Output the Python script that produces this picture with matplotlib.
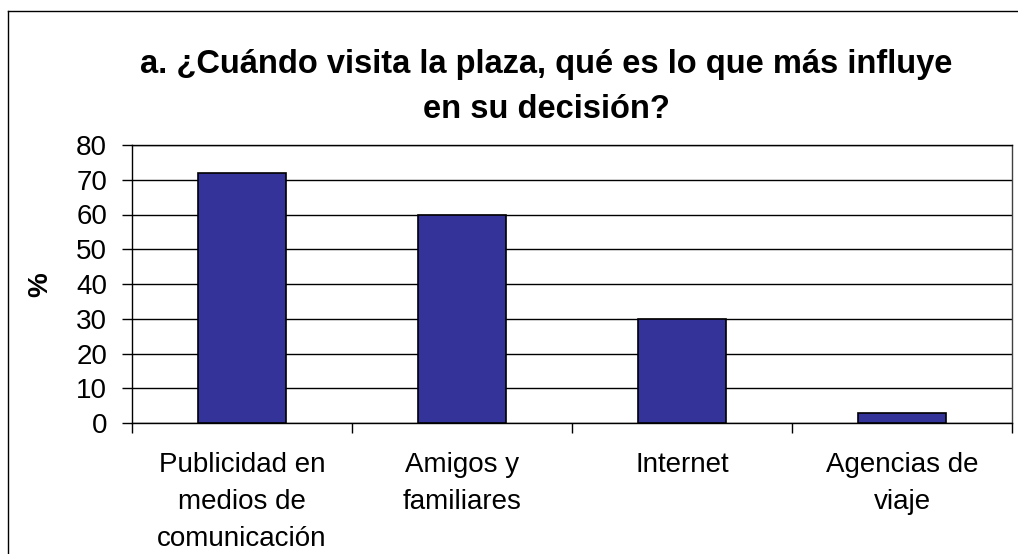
import matplotlib
matplotlib.use("Agg")
import matplotlib.pyplot as plt
from matplotlib.lines import Line2D

categories = ["Publicidad en\nmedios de\ncomunicación", "Amigos y\nfamiliares", "Internet", "Agencias de\nviaje"]
values = [72, 60, 30, 3]
yticks = [0, 10, 20, 30, 40, 50, 60, 70, 80]
title = "a. ¿Cuándo visita la plaza, qué es lo que más influye\nen su decisión?"

plt.rcParams['font.family'] = ['Liberation Sans', 'DejaVu Sans']

W, H = 1018, 554
fig = plt.figure(figsize=(W/100, H/100), dpi=100)
ax = fig.add_axes([132/W, 1-423/H, (1012-132)/W, (423-145)/H])

x = list(range(len(categories)))
ax.bar(x, values, width=0.4, color="#333399", edgecolor="black", linewidth=1.2, zorder=3)
ax.set_xlim(-0.5, len(categories)-0.5)
ax.set_ylim(0, 80)
ax.set_yticks(yticks)
ax.set_yticklabels([str(v) for v in yticks], fontsize=20)
ax.yaxis.grid(True, color="black", linewidth=1)
ax.set_axisbelow(True)
ax.tick_params(axis='y', direction='out', length=7, width=1, pad=11)

ax.set_xticks([i-0.5 for i in range(len(categories)+1)], minor=False)
ax.set_xticklabels([])
ax.tick_params(axis='x', direction='out', length=7, width=1)
ax.set_xticks(x, minor=True)
ax.set_xticklabels(categories, minor=True, fontsize=20, linespacing=1.55)
ax.tick_params(axis='x', which='minor', length=0, pad=21)

for s in ax.spines.values():
    s.set_color("black")
    s.set_linewidth(1)
ax.spines['right'].set_color("#404040")

fig.text(40/W, 1-285/H, "%", rotation=90, ha='center', va='center',
         fontsize=20, fontweight='bold')

fig.text(546/W, 1-87/H, title, ha='center', va='center', fontsize=23.5,
         fontweight='bold', linespacing=1.55)

# outer chart border (partially visible)
fig.add_artist(Line2D([8/W, 8/W], [0, 1-11/H], transform=fig.transFigure, color='black', linewidth=1))
fig.add_artist(Line2D([8/W, 1], [1-11/H, 1-11/H], transform=fig.transFigure, color='black', linewidth=1))

fig.savefig("out.png", dpi=100)
